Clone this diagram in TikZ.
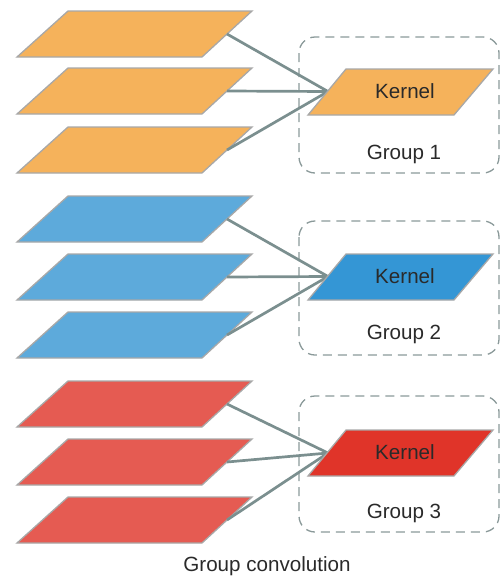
\documentclass[tikz,border=0pt]{standalone}
\usepackage{fontspec}
\setmainfont{Liberation Sans}
\definecolor{orangeIn}{HTML}{F5B25B}
\definecolor{blueIn}{HTML}{5DAADB}
\definecolor{blueK}{HTML}{3496D5}
\definecolor{redIn}{HTML}{E55B52}
\definecolor{redK}{HTML}{E03429}
\definecolor{edgeGray}{HTML}{A8A8A8}
\definecolor{linkGray}{HTML}{7B8F8F}
\definecolor{boxGray}{HTML}{8A9999}
\definecolor{txt}{HTML}{2A2A2A}
\tikzset{
  plane/.style={draw=edgeGray, line width=1.3pt, line join=miter},
  link/.style={draw=linkGray, line width=2.7pt},
  groupbox/.style={draw=boxGray, line width=1.3pt, dash pattern=on 9pt off 6pt, rounded corners=16pt},
  lbl/.style={text=txt, font=\fontsize{20.6}{24}\selectfont, inner sep=0pt},
}
% input plane: #1 name, #2 top y, #3 fill
\newcommand{\inplane}[3]{%
  \draw[plane, fill=#3] (68,#2) -- (252,#2) -- (202,#2+46) -- (17,#2+46) -- cycle;
  \coordinate (#1) at (227,#2+23);}
% kernel plane: #1 name, #2 top y, #3 fill
\newcommand{\kplane}[3]{%
  \draw[plane, fill=#3] (346,#2) -- (493,#2) -- (454,#2+46) -- (308,#2+46) -- cycle;
  \node[lbl] (#1t) at (405,#2+22) {Kernel};}
\begin{document}
\begin{tikzpicture}[x=1pt,y=-1pt]
\useasboundingbox (0,0) rectangle (500,579);
% group boxes
\draw[groupbox] (299,37) rectangle (499,173);
\draw[groupbox] (299,221) rectangle (499,355);
\draw[groupbox] (299,396) rectangle (499,532);
% inputs
\inplane{o1}{11}{orangeIn}
\inplane{o2}{68}{orangeIn}
\inplane{o3}{127}{orangeIn}
\inplane{b1}{196}{blueIn}
\inplane{b2}{254}{blueIn}
\inplane{b3}{312}{blueIn}
\inplane{r1}{381}{redIn}
\inplane{r2}{439}{redIn}
\inplane{r3}{497}{redIn}
% kernel attachment points
\coordinate (ko) at (328,91.5);
\coordinate (kb) at (328,276.5);
\coordinate (kr) at (328,453);
\foreach \s/\k in {o1/ko,o2/ko,o3/ko,b1/kb,b2/kb,b3/kb,r1/kr,r2/kr,r3/kr}
  \draw[link] (\s) -- (\k);
% kernels
\kplane{ko}{69}{orangeIn}
\kplane{kb}{254}{blueK}
\kplane{kr}{430}{redK}
% labels
\node[lbl] (g1) at (404,154) {Group 1};
\node[lbl] (g2) at (404,334) {Group 2};
\node[lbl] (g3) at (404,513) {Group 3};
\node[lbl] (cap) at (267,566) {Group convolution};
\end{tikzpicture}
\end{document}
